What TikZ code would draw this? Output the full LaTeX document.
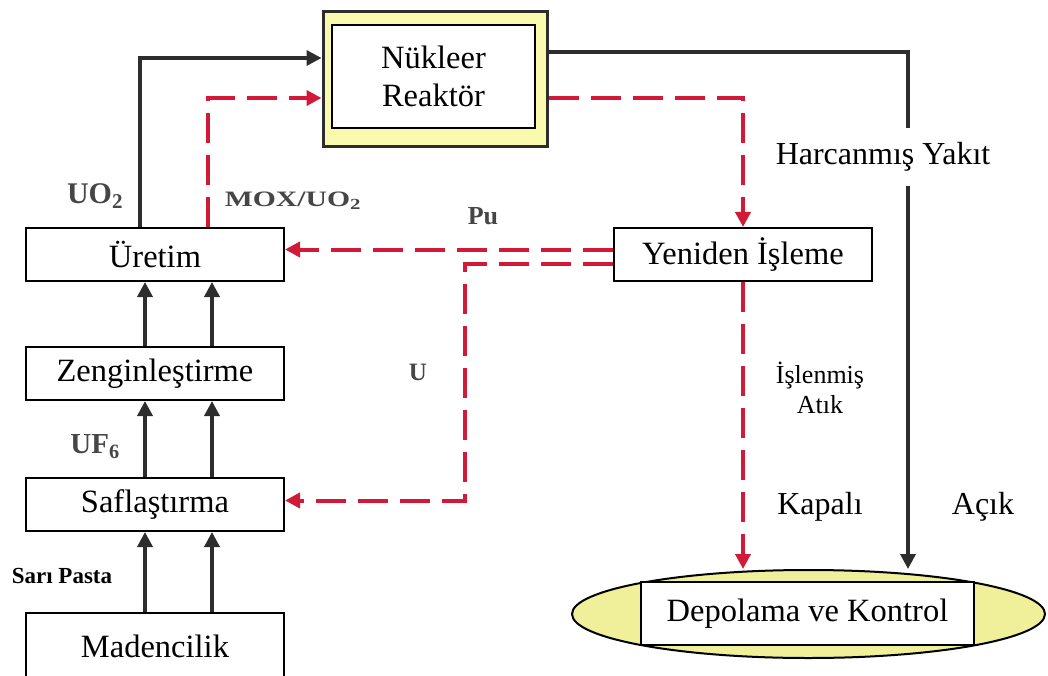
\documentclass[tikz,border=0pt]{standalone}
\usepackage{fontspec}
\setmainfont{Liberation Serif}
\usetikzlibrary{arrows.meta,shapes.geometric}
\definecolor{flowred}{RGB}{210,25,55}
\definecolor{flowblack}{RGB}{45,45,45}
\definecolor{labelgray}{RGB}{70,70,70}
\definecolor{reactorfill}{RGB}{250,250,175}
\definecolor{storefill}{RGB}{240,240,155}

\begin{document}
\begin{tikzpicture}[x=1pt, y=-1pt,
    stage/.style={draw, line width=2pt, fill=white, minimum width=258pt, minimum height=53pt, inner sep=0pt, font=\fontsize{32.5}{38}\selectfont},
    blackflow/.style={draw=flowblack, line width=3.5pt, -{Triangle[length=15pt,width=15pt]}},
    redflow/.style={draw=flowred, line width=4pt, dash pattern=on 30pt off 12pt, -{Triangle[length=15pt,width=15pt]}},
    flowlabel/.style={text=labelgray, font=\bfseries\fontsize{#1}{#1}\selectfont, inner sep=0pt},
    cyclelabel/.style={font=\fontsize{#1}{#1}\selectfont, inner sep=0pt, align=center}]
      \useasboundingbox (0,0) rectangle (1048,676);
      \clip (0,0) rectangle (1048,676);
      % Draw the reactor
      \node[draw=flowblack, line width=3pt, fill=reactorfill, minimum width=224pt, minimum height=135pt] (reactor) at (435,79.5) {};
      \node[stage, minimum width=203pt, minimum height=103pt, align=center] (core) at (433.5,76.5) {Nükleer\\Reaktör};
      % Draw the front-end stages
      \node[stage] (uretim) at (155,254.5) {Üretim};
      \node[stage] (zeng) at (155,373.5) {Zenginleştirme};
      \node[stage] (saf) at (155,504.5) {Saflaştırma};
      \node[stage, minimum height=66pt] (maden) at (155,646) {Madencilik};
      % Draw the back-end stages
      \node[stage] (yeniden) at (743,254.5) {Yeniden İşleme};
      \node[ellipse, draw, line width=2pt, fill=storefill, minimum width=473pt, minimum height=88pt, inner sep=0pt] (store) at (808.5,614) {};
      \node[stage, minimum width=333pt, minimum height=63pt] (depo) at (807.5,613.5) {Depolama ve Kontrol};
      % Draw the bends
      \coordinate (uo2) at (140,58);
      \coordinate (mox) at (208,98);
      \coordinate (spent) at (908,52);
      \coordinate (reproc) at (743,98);
      \coordinate (ubend) at (465,264);
      % Draw the front-end flows
      \foreach \dx in {-10,57} {
        \draw[blackflow] ([xshift=\dx pt]zeng.north) -- ([xshift=\dx pt]uretim.south);
        \draw[blackflow] ([xshift=\dx pt]saf.north) -- ([xshift=\dx pt]zeng.south);
        \draw[blackflow] ([xshift=\dx pt]maden.north) -- ([xshift=\dx pt]saf.south);
      }
      \draw[blackflow] (uretim.north -| uo2) |- (uo2 -| reactor.west);
      \draw[redflow] (uretim.north -| mox) |- (mox -| reactor.west);
      % Draw the back-end flows
      \draw[blackflow] (spent -| reactor.east) -- (spent) -- (spent |- store.north);
      \draw[redflow] (reproc -| reactor.east) -- (reproc) -- (yeniden.north);
      \draw[redflow] ([yshift=5pt]yeniden.west) -- ([yshift=5pt]uretim.east);
      \draw[redflow] (ubend -| yeniden.west) -- (ubend) |- ([yshift=4pt]saf.east);
      \draw[redflow] (yeniden.south) -- (yeniden.south |- store.north);
      % Draw the flow labels
      \node[flowlabel=30] (luo2) at (95,196) {UO\textsubscript{2}};
      \node[flowlabel=22] (lmox) at (293,201) {\scalebox{1.35}[1]{MOX/UO\textsubscript{2}}};
      \node[flowlabel=26] (lpu) at (483,216) {Pu};
      \node[flowlabel=25] (lu) at (418,372) {U};
      \node[flowlabel=29] (luf6) at (95,447) {UF\textsubscript{6}};
      \node[flowlabel=23, text=black] (lpasta) at (62,576) {Sarı Pasta};
      % Draw the cycle labels
      \node[cyclelabel=32, fill=white, inner xsep=4pt, inner ysep=14pt] (lspent) at (883,157) {Harcanmış Yakıt};
      \node[cyclelabel=26] (lwaste) at (820,388) {İşlenmiş\\[4pt]Atık};
      \node[cyclelabel=32] (lclosed) at (820,507) {Kapalı};
      \node[cyclelabel=32] (lopen) at (983,507) {Açık};
    \end{tikzpicture}
\end{document}
